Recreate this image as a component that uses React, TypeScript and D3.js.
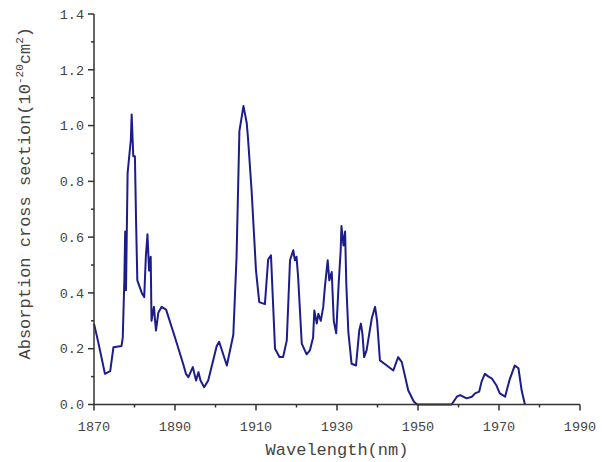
import React from "react"
import * as d3 from "d3"

// absorption spectrum
const wavelength: number[] = [
    1870.0, 1871.1, 1872.7, 1874.0, 1874.8, 1876.8, 1877.1, 1877.5, 1877.7, 1877.9,
    1878.3, 1878.7, 1879.1, 1879.3, 1879.7, 1880.1, 1880.4, 1880.7, 1881.8, 1882.4,
    1882.8, 1883.2, 1883.6, 1884.0, 1884.2, 1884.8, 1885.3, 1885.9, 1886.7, 1887.8,
    1890.0, 1892.0, 1892.7, 1893.3, 1894.4, 1895.2, 1895.8, 1896.3, 1897.2, 1898.2,
    1900.3, 1900.9, 1902.8, 1904.4, 1905.2, 1905.9, 1906.9, 1907.3, 1907.7, 1908.0,
    1908.9, 1910.0, 1910.8, 1912.2, 1913.0, 1913.7, 1914.1, 1914.7, 1915.8, 1916.7,
    1917.6, 1918.4, 1919.2, 1919.6, 1920.0, 1920.4, 1921.3, 1922.5, 1923.3, 1924.1,
    1924.4, 1925.0, 1925.4, 1926.0, 1926.6, 1927.0, 1927.7, 1928.1, 1928.7, 1929.2,
    1929.8, 1930.4, 1930.9, 1931.1, 1931.6, 1932.0, 1932.3, 1932.8, 1933.6, 1934.7,
    1935.5, 1935.9, 1936.3, 1936.7, 1937.3, 1937.7, 1938.6, 1939.4, 1939.9, 1940.6,
    1942.3, 1943.9, 1945.1, 1946.0, 1947.6, 1949.0, 1949.8, 1958.3, 1959.6, 1960.4,
    1962.0, 1963.3, 1964.1, 1965.1, 1965.7, 1966.5, 1967.4, 1968.2, 1969.3, 1970.2,
    1971.5, 1972.6, 1973.9, 1974.8, 1975.6, 1976.4
]
const absorption: number[] = [
    0.29, 0.22, 0.11, 0.12, 0.205, 0.21, 0.24, 0.45, 0.62, 0.41,
    0.83, 0.89, 0.95, 1.04, 0.89, 0.89, 0.65, 0.445, 0.40, 0.385,
    0.53, 0.61, 0.48, 0.53, 0.30, 0.35, 0.265, 0.33, 0.35, 0.34,
    0.24, 0.146, 0.11, 0.098, 0.134, 0.086, 0.116, 0.086, 0.062, 0.086,
    0.21, 0.225, 0.14, 0.25, 0.53, 0.98, 1.07, 1.04, 1.01, 0.96,
    0.77, 0.48, 0.367, 0.36, 0.52, 0.535, 0.40, 0.20, 0.17, 0.17,
    0.23, 0.517, 0.553, 0.517, 0.53, 0.457, 0.218, 0.18, 0.194, 0.24,
    0.337, 0.29, 0.325, 0.30, 0.35, 0.42, 0.517, 0.445, 0.475, 0.30,
    0.255, 0.43, 0.55, 0.64, 0.57, 0.62, 0.43, 0.26, 0.146, 0.14,
    0.266, 0.29, 0.25, 0.17, 0.194, 0.23, 0.31, 0.35, 0.30, 0.158,
    0.14, 0.122, 0.17, 0.152, 0.05, 0.01, 0.0, 0.0, 0.028, 0.034,
    0.022, 0.028, 0.04, 0.046, 0.082, 0.11, 0.10, 0.094, 0.07, 0.04,
    0.028, 0.088, 0.14, 0.13, 0.05, 0.0
]

const xTicks: number[] = [1870, 1890, 1910, 1930, 1950, 1970, 1990]
const xMinorTicks: number[] = [1880, 1900, 1920, 1940, 1960, 1980]
const yTicks: number[] = [0, 0.2, 0.4, 0.6, 0.8, 1.0, 1.2, 1.4]
const yMinorTicks: number[] = [0.1, 0.3, 0.5, 0.7, 0.9, 1.1, 1.3]

const font = "'Liberation Mono', monospace"
const axisColor = "#333"

function App() {
    const width = 604
    const height = 462
    const [left, right, top, bottom] = [94, 580, 14, 404.5]

    const x = d3.scaleLinear().domain([1870, 1990]).range([left, right])
    const y = d3.scaleLinear().domain([0, 1.4]).range([bottom, top])

    const points: [number, number][] = wavelength.map((w, i) => [w, absorption[i]])
    const line = d3.line<[number, number]>()
        .x(d => x(d[0]))
        .y(d => y(d[1]))

    const fmt = d3.format(".1f")

    return (
        <svg width={width} height={height}
            style={{ position: "absolute", left: 0, top: 0, background: "#fff" }}>
            <path d={line(points) ?? ""} fill="none" stroke="#1c1c8a" strokeWidth={2}
                strokeLinejoin="round" />

            {/* axes */}
            <line x1={left} x2={left} y1={top} y2={bottom} stroke={axisColor} strokeWidth={1.5} />
            <line x1={left} x2={right} y1={bottom} y2={bottom} stroke={axisColor} strokeWidth={1.5} />

            {xTicks.map(t => (
                <g key={"xt" + t}>
                    <line x1={x(t)} x2={x(t)} y1={bottom} y2={bottom + 6} stroke={axisColor} strokeWidth={1.5} />
                    <text x={x(t)} y={bottom + 26} textAnchor="middle" fontFamily={font}
                        fontSize={13.5} fill="#444">{t}</text>
                </g>
            ))}
            {xMinorTicks.map(t => (
                <line key={"xm" + t} x1={x(t)} x2={x(t)} y1={bottom} y2={bottom + 3}
                    stroke={axisColor} strokeWidth={1.5} />
            ))}
            {yTicks.map(t => (
                <g key={"yt" + t}>
                    <line x1={left - 6} x2={left} y1={y(t)} y2={y(t)} stroke={axisColor} strokeWidth={1.5} />
                    <text x={left - 10} y={y(t)} dy="0.35em" textAnchor="end" fontFamily={font}
                        fontSize={13.5} fill="#444">{fmt(t)}</text>
                </g>
            ))}
            {yMinorTicks.map(t => (
                <line key={"ym" + t} x1={left - 3} x2={left} y1={y(t)} y2={y(t)}
                    stroke={axisColor} strokeWidth={1.5} />
            ))}

            <text x={(left + right) / 2} y={455} textAnchor="middle" fontFamily={font}
                fontSize={17} fill="#444">Wavelength(nm)</text>

            <text transform={`translate(30,${(top + bottom) / 2 - 16}) rotate(-90)`} textAnchor="middle"
                fontFamily={font} fontSize={17} fill="#444">
                Absorption cross section(10
                <tspan fontSize={11} dy={-7}>-20</tspan>
                <tspan dy={7}>cm</tspan>
                <tspan fontSize={11} dy={-7}>2</tspan>
                <tspan dy={7}>)</tspan>
            </text>
        </svg>
    )
}

export default App
